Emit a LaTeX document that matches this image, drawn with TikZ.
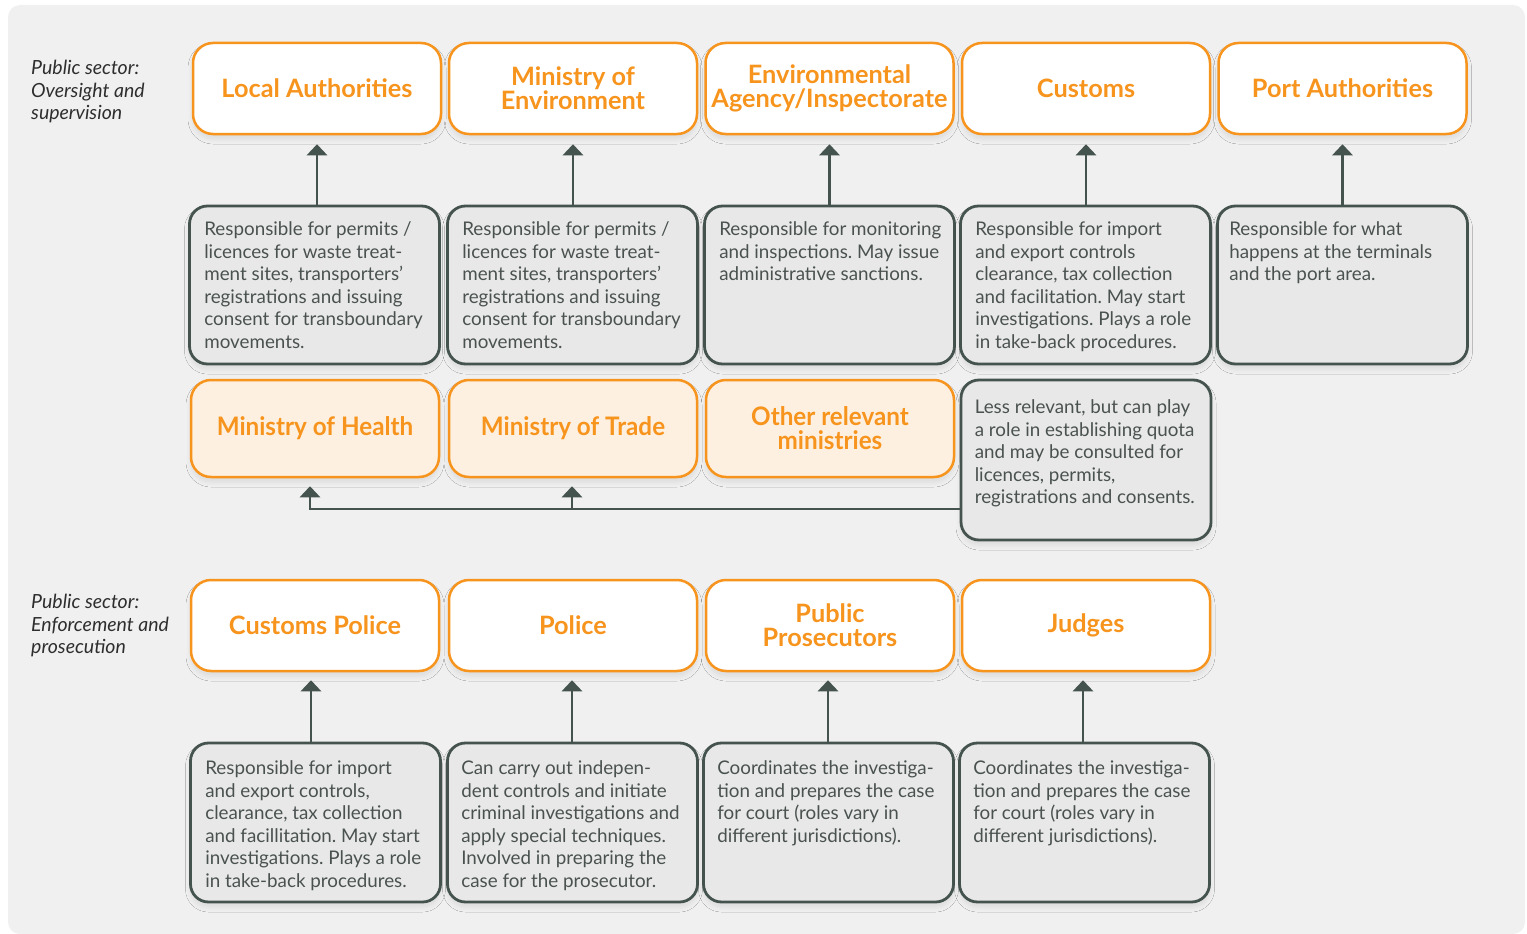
\documentclass[tikz,border=0pt]{standalone}
\usepackage{fontspec}
\setmainfont{Lato}
\newfontfamily\condfont[FakeStretch=0.95]{Lato}
\usetikzlibrary{arrows.meta,calc,shadows.blur}
\definecolor{orng}{HTML}{F7941D}
\definecolor{lorng}{HTML}{FEF0E0}
\definecolor{slate}{HTML}{45534F}
\definecolor{bodytx}{HTML}{4A5250}
\definecolor{descfill}{HTML}{E8E8E8}
\definecolor{bgcol}{HTML}{F0F0F0}
\definecolor{labtx}{HTML}{2E2E2E}
\frenchspacing
\tikzset{
  shad/.style={blur shadow={shadow xshift=0pt,shadow yshift=-5pt,shadow blur radius=5pt,shadow opacity=9,shadow blur steps=8}},
  orgbox/.style={shad,draw=orng,line width=2.5pt,fill=white,rounded corners=20pt,
    minimum width=248pt,minimum height=91pt,inner sep=0pt,text=orng,align=center,
    font=\fontsize{25.3}{24}\selectfont\bfseries},
  lorgbox/.style={orgbox,fill=lorng,minimum height=97pt,font=\condfont\fontsize{25.5}{24}\selectfont\bfseries},
  descbox/.style={shad,draw=slate,line width=2.8pt,fill=descfill,rounded corners=18pt,
    minimum width=250pt,inner sep=0pt},
  desctx/.style={anchor=north west,inner sep=0pt,text=bodytx,align=left,
    font=\fontsize{18.8}{22.5}\selectfont},
  labeltx/.style={anchor=north west,inner sep=0pt,text=labtx,align=left,
    font=\fontsize{19.5}{22.5}\selectfont\itshape},
  arr/.style={draw=slate,line width=2.8pt,-{Triangle[width=20pt,length=11pt]}}
}
\begin{document}
\begin{tikzpicture}[x=1pt,y=-1pt]
\useasboundingbox (0,0) rectangle (1527,934);
\fill[bgcol,rounded corners=12pt] (8,5) rectangle (1525,934);

% section labels
\node[labeltx] (lab1) at (31,60) {Public sector:\\Oversight and\\supervision};
\node[labeltx] (lab2) at (31,594) {Public sector:\\Enforcement and\\prosecution};

% top row
\node[orgbox] (t1) at (317,88.5) {Local Authorities};
\node[orgbox] (t2) at (573,88.5) {Ministry of\\Environment};
\node[orgbox] (t3) at (829.5,88.5) {Environmental\\Agency/Inspectorate};
\node[orgbox] (t4) at (1086,88.5) {Customs};
\node[orgbox] (t5) at (1342.5,88.5) {Port Authorities};

% description row 1
\node[descbox,minimum height=158pt] (d1) at (314.5,285) {};
\node[descbox,minimum height=158pt] (d2) at (572.5,285) {};
\node[descbox,minimum height=158pt] (d3) at (829.5,285) {};
\node[descbox,minimum height=158pt] (d4) at (1085.5,285) {};
\node[descbox,minimum height=158pt] (d5) at (1342.5,285) {};
\node[desctx] (x1) at ($(d1.north west)+(16,17)$) {Responsible for permits /\\licences for waste treat-\\ment sites, transporters’\\registrations and issuing\\consent for transboundary\\movements.};
\node[desctx] (x2) at ($(d2.north west)+(16,17)$) {Responsible for permits /\\licences for waste treat-\\ment sites, transporters’\\registrations and issuing\\consent for transboundary\\movements.};
\node[desctx] (x3) at ($(d3.north west)+(16,17)$) {Responsible for monitoring\\and inspections. May issue\\administrative sanctions.};
\node[desctx] (x4) at ($(d4.north west)+(16,17)$) {Responsible for import\\and export controls\\clearance, tax collection\\and facilitation. May start\\investigations. Plays a role\\in take-back procedures.};
\node[desctx] (x5) at ($(d5.north west)+(13,17)$) {Responsible for what\\happens at the terminals\\and the port area.};

\foreach \i in {1,...,5}{
  \draw[arr] (t\i.south |- d\i.north) -- ([yshift=-9pt]t\i.south);
}

% row 2
\node[lorgbox] (m1) at (315,428.5) {Ministry of Health};
\node[lorgbox] (m2) at (573,428.5) {Ministry of Trade};
\node[lorgbox] (m3) at (830,428.5) {Other relevant\\ministries};
\node[descbox,minimum height=160pt] (g) at (1086,460) {};
\node[desctx] (gx) at ($(g.north west)+(15,21)$) {Less relevant, but can play\\a role in establishing quota\\and may be consulted for\\licences, permits,\\registrations and consents.};
\coordinate (j) at (961,509);
\draw[arr] (g.west |- j) -| ([xshift=-5pt,yshift=-8pt]m1.south);
\draw[arr] ([xshift=-1pt]m2.south |- j) -- ([xshift=-1pt,yshift=-8pt]m2.south);

% bottom row
\node[orgbox] (b1) at (315,625.5) {Customs Police};
\node[orgbox] (b2) at (573,625.5) {Police};
\node[orgbox] (b3) at (830,625.5) {Public\\Prosecutors};
\node[orgbox] (b4) at (1086,625.5) {Judges};

\node[descbox,minimum height=159pt] (e1) at (315.5,822.5) {};
\node[descbox,minimum height=159pt] (e2) at (572.5,822.5) {};
\node[descbox,minimum height=159pt] (e3) at (828.5,822.5) {};
\node[descbox,minimum height=159pt] (e4) at (1084.5,822.5) {};
\node[desctx] (y1) at ($(e1.north west)+(16,19)$) {Responsible for import\\and export controls,\\clearance, tax collection\\and facillitation. May start\\investigations. Plays a role\\in take-back procedures.};
\node[desctx] (y2) at ($(e2.north west)+(15,19)$) {Can carry out indepen-\\dent controls and initiate\\criminal investigations and\\apply special techniques.\\Involved in preparing the\\case for the prosecutor.};
\node[desctx] (y3) at ($(e3.north west)+(15,19)$) {Coordinates the investiga-\\tion and prepares the case\\for court (roles vary in\\different jurisdictions).};
\node[desctx] (y4) at ($(e4.north west)+(15,19)$) {Coordinates the investiga-\\tion and prepares the case\\for court (roles vary in\\different jurisdictions).};

\draw[arr] ([xshift=-4pt]b1.south |- e1.north) -- ([xshift=-4pt,yshift=-8pt]b1.south);
\draw[arr] ([xshift=-1pt]b2.south |- e2.north) -- ([xshift=-1pt,yshift=-8pt]b2.south);
\draw[arr] ([xshift=-2pt]b3.south |- e3.north) -- ([xshift=-2pt,yshift=-8pt]b3.south);
\draw[arr] ([xshift=-3pt]b4.south |- e4.north) -- ([xshift=-3pt,yshift=-8pt]b4.south);
\end{tikzpicture}
\end{document}
